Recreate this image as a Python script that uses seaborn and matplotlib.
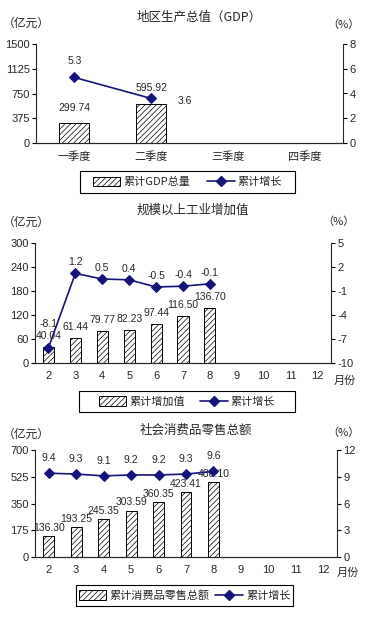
import numpy as np
import pandas as pd
import matplotlib
matplotlib.use("Agg")
import matplotlib.pyplot as plt
import seaborn as sns
from matplotlib.patches import Patch, Rectangle
from matplotlib.lines import Line2D

# 数据
quarters = ['一季度', '二季度', '三季度', '四季度']
gdp_total = [299.74, 595.92]
gdp_growth = [5.3, 3.6]

months = ['2', '3', '4', '5', '6', '7', '8', '9', '10', '11', '12']
ind_total = [40.04, 61.44, 79.77, 82.23, 97.44, 116.50, 136.70]
ind_growth = [-8.1, 1.2, 0.5, 0.4, -0.5, -0.4, -0.1]

retail_total = [136.30, 193.25, 245.35, 303.59, 360.35, 423.41, 488.10]
retail_growth = [9.4, 9.3, 9.1, 9.2, 9.2, 9.3, 9.6]

sns.set_style("white")
plt.rcParams['font.family'] = ['Liberation Sans', 'Noto Sans CJK SC', 'DejaVu Sans']
plt.rcParams['hatch.linewidth'] = 0.5
plt.rcParams['axes.linewidth'] = 0.8

NAVY = '#14147a'
W, H = 365, 619

fig = plt.figure(figsize=(W / 100, H / 100), dpi=100)


def px(x, y):
    return x / W, 1 - y / H


def draw_chart(box, cats, vals, growth, lticks, rticks, bar_w, bar_off, line_off,
               title, title_y, unit_y, pct_xy, legend_box, bar_name, col_sp, month_xy=None):
    x0, y0, x1, y1 = box
    ax = fig.add_axes([x0 / W, 1 - y1 / H, (x1 - x0) / W, (y1 - y0) / H])
    sns.barplot(x=cats[:len(vals)], y=vals, order=cats, ax=ax, color='white',
                edgecolor='black', linewidth=0.7, width=bar_w, saturation=1)
    for p in ax.patches:
        p.set_hatch('//////')
    ax.set_xlim(-0.5, len(cats) - 0.5)
    ax.set_ylim(lticks[0], lticks[-1])
    ax.set_yticks(lticks)
    ax.set_yticklabels([f'{t:g}' for t in lticks])
    ax.set_xlabel('')
    ax.set_ylabel('')
    ax.set_xticks(range(len(cats)))
    ax.set_xticklabels(cats)
    ax.set_xticks(np.arange(-0.5, len(cats), 1), minor=True)
    ax.tick_params(axis='x', which='major', length=0, pad=6, labelsize=8)
    ax.tick_params(axis='x', which='minor', length=3, width=0.8, direction='out', color='black')
    ax.tick_params(axis='y', length=3, width=0.8, direction='out', pad=1.5, labelsize=8, left=True, color='black')
    for s in ['top', 'right']:
        ax.spines[s].set_visible(False)
    for i, v in enumerate(vals):
        ax.annotate(f'{v:.2f}', (i, v), xytext=(0, bar_off), textcoords='offset points',
                    ha='center', va='center', fontsize=7.5)

    ax2 = ax.twinx()
    sns.lineplot(x=np.arange(len(growth)), y=growth, ax=ax2, color=NAVY, marker='D',
                 markersize=5, markeredgecolor=NAVY, linewidth=1.2)
    ax2.set_xlim(-0.5, len(cats) - 0.5)
    ax2.set_ylim(rticks[0], rticks[-1])
    ax2.set_yticks(rticks)
    ax2.set_yticklabels([f'{t:g}' for t in rticks])
    ax2.set_ylabel('')
    ax2.tick_params(axis='y', length=3, width=0.8, direction='out', pad=1.5, labelsize=8, right=True, color='black')
    for s in ['top', 'left']:
        ax2.spines[s].set_visible(False)
    for i, g in enumerate(growth):
        dx, dy = line_off[i] if isinstance(line_off, list) else line_off
        ax2.annotate(f'{g:g}', (i, g), xytext=(dx, dy), textcoords='offset points',
                     ha='center', va='center', fontsize=7.5)

    fig.text(*px((x0 + x1) / 2 + 10, title_y), title, ha='center', va='center', fontsize=9,
             family='Noto Sans CJK SC')
    fig.text(*px(26, unit_y), '（亿元）', ha='center', va='center', fontsize=8.5,
             family='Noto Sans CJK SC')
    fig.text(*px(*pct_xy), '（%）', ha='center', va='center', fontsize=8,
             family='Noto Sans CJK SC')
    if month_xy:
        fig.text(*px(*month_xy), '月份', ha='center', va='center', fontsize=8,
                 family='Noto Sans CJK SC')

    # 图例外框
    lx0, ly0, lx1, ly1 = legend_box
    fig.patches.append(Rectangle(px(lx0, ly1), (lx1 - lx0) / W, (ly1 - ly0) / H,
                                 transform=fig.transFigure, fill=False,
                                 edgecolor='black', linewidth=0.8))
    handles = [Patch(facecolor='white', edgecolor='black', hatch='//////', linewidth=0.7),
               Line2D([0], [0], color=NAVY, marker='D', markersize=5, linewidth=1.2)]
    fig.legend(handles, [bar_name, '累计增长'], loc='center',
               bbox_to_anchor=px((lx0 + lx1) / 2, (ly0 + ly1) / 2), ncol=2,
               frameon=False, handlelength=2.5,
               handleheight=0.9, columnspacing=col_sp, handletextpad=0.3,
               borderpad=0.0, prop={'family': 'Noto Sans CJK SC', 'size': 8})
    return ax, ax2


draw_chart((36, 44, 343, 143), quarters, gdp_total, gdp_growth,
           [0, 375, 750, 1125, 1500], [0, 2, 4, 6, 8], 0.39, 11,
           [(0, 12), (24, -2)],
           '地区生产总值（GDP）', 17, 23, (343, 25), (80, 171, 295, 193), '累计GDP总量', 1.45)

draw_chart((35, 243, 331, 363), months, ind_total, ind_growth,
           [0, 60, 120, 180, 240, 300], [-10, -7, -4, -1, 2, 5], 0.41, 8,
           [(0, 17)] + [(0, 8)] * 6,
           '规模以上工业增加值', 210, 222, (338, 222), (79, 391, 295, 412), '累计增加值', 1.3,
           month_xy=(345, 381))

draw_chart((35, 450, 337, 557), months, retail_total, retail_growth,
           [0, 175, 350, 525, 700], [0, 3, 6, 9, 12], 0.4, 6,
           (0, 11),
           '社会消费品零售总额', 430, 434, (343, 433), (76, 585, 293, 606), '累计消费品零售总额', 0.45,
           month_xy=(348, 573))

fig.savefig('out.png', dpi=100)
